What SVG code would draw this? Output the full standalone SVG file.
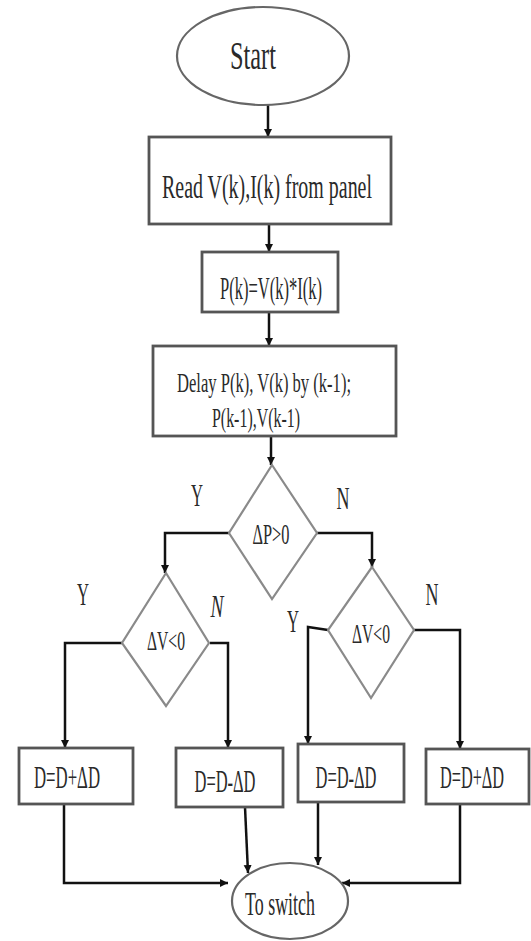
<svg xmlns="http://www.w3.org/2000/svg" width="531" height="941" viewBox="0 0 531 941">
<defs>
<marker id="arr" viewBox="0 0 10 10" refX="10" refY="5" markerWidth="8" markerHeight="9" markerUnits="userSpaceOnUse" orient="auto">
<path d="M0,0 L10,5 L0,10 z" fill="#111"/>
</marker>
<style>
.box{fill:#fff;stroke:#555;stroke-width:2.8}
.dia{fill:#fff;stroke:#8a8a8a;stroke-width:2.2}
.ell{fill:#fff;stroke:#666;stroke-width:2.2}
.con{fill:none;stroke:#111;stroke-width:2.5;marker-end:url(#arr)}
.t{font-family:"Liberation Serif","Times New Roman",serif;fill:#2a2a2a;text-anchor:middle;dominant-baseline:central}
.lb{font-family:"Liberation Serif","Times New Roman",serif;fill:#2a2a2a;text-anchor:middle;dominant-baseline:central;font-size:31px}
</style>
</defs>
<rect width="531" height="941" fill="#fff"/>
<g id="connectors">
<path class="con" d="M268,105 V137"/>
<path class="con" d="M269,224 V252"/>
<path class="con" d="M269,312 V346"/>
<path class="con" d="M271,436 V465"/>
<path class="con" d="M229,533 H165 V573"/>
<path class="con" d="M317,533 H372 V567"/>
<path class="con" d="M122,643 H65 V748"/>
<path class="con" d="M210,643 H228 V748"/>
<path class="con" d="M328,630 L308,627 V744"/>
<path class="con" d="M414,630 H460 V749"/>
<path class="con" d="M64,804 V883 H228"/>
<path class="con" d="M245,807 L248,873"/>
<path class="con" d="M318,802 V865"/>
<path class="con" d="M460,804 V883 H342"/>
</g>
<g id="start">
<ellipse class="ell" cx="263" cy="56" rx="86" ry="49"/>
<text class="t" x="253" y="55" font-size="39" textLength="46" lengthAdjust="spacingAndGlyphs">Start</text>
</g>
<g id="read">
<rect class="box" x="149" y="137" width="242" height="87"/>
<text class="t" x="267" y="186" font-size="34" textLength="210" lengthAdjust="spacingAndGlyphs">Read V(k),I(k) from panel</text>
</g>
<g id="power">
<rect class="box" x="202" y="252" width="136" height="60"/>
<text class="t" x="271" y="288" font-size="31" textLength="102" lengthAdjust="spacingAndGlyphs">P(k)=V(k)*I(k)</text>
</g>
<g id="delay">
<rect class="box" x="153" y="346" width="243" height="90"/>
<text class="t" x="264" y="382" font-size="28" textLength="174" lengthAdjust="spacingAndGlyphs">Delay P(k), V(k) by (k-1);</text>
<text class="t" x="256" y="417" font-size="28" textLength="88" lengthAdjust="spacingAndGlyphs">P(k-1),V(k-1)</text>
</g>
<g id="dp">
<polygon class="dia" points="272,465 317,533 272,599 229,533"/>
<text class="t" x="271" y="533" font-size="30" textLength="37" lengthAdjust="spacingAndGlyphs">ΔP&gt;0</text>
</g>
<g id="dv1">
<polygon class="dia" points="166,573 209,643 166,706 122,643"/>
<text class="t" x="166" y="640" font-size="28" textLength="38" lengthAdjust="spacingAndGlyphs">ΔV&lt;0</text>
</g>
<g id="dv2">
<polygon class="dia" points="372,567 414,630 371,698 328,630"/>
<text class="t" x="371" y="633" font-size="28" textLength="38" lengthAdjust="spacingAndGlyphs">ΔV&lt;0</text>
</g>
<g id="labels">
<text class="lb" x="197" y="495" textLength="12" lengthAdjust="spacingAndGlyphs">Y</text>
<text class="lb" x="343" y="498" textLength="13" lengthAdjust="spacingAndGlyphs">N</text>
<text class="lb" x="83" y="594" textLength="12" lengthAdjust="spacingAndGlyphs">Y</text>
<text class="lb" x="217" y="606" font-style="italic" textLength="13" lengthAdjust="spacingAndGlyphs">N</text>
<text class="lb" x="432" y="594" textLength="13" lengthAdjust="spacingAndGlyphs">N</text>
<text class="lb" x="293" y="621" textLength="12" lengthAdjust="spacingAndGlyphs">Y</text>
</g>
<g id="b1">
<rect class="box" x="19" y="748" width="114" height="56"/>
<text class="t" x="67" y="777" font-size="31" textLength="66" lengthAdjust="spacingAndGlyphs">D=D+ΔD</text>
</g>
<g id="b2">
<rect class="box" x="176" y="748" width="107" height="59"/>
<text class="t" x="225" y="781" font-size="31" textLength="61" lengthAdjust="spacingAndGlyphs">D=D-ΔD</text>
</g>
<g id="b3">
<rect class="box" x="298" y="744" width="106" height="58"/>
<text class="t" x="346" y="777" font-size="31" textLength="61" lengthAdjust="spacingAndGlyphs">D=D-ΔD</text>
</g>
<g id="b4">
<rect class="box" x="426" y="749" width="103" height="55"/>
<text class="t" x="472" y="777" font-size="31" textLength="64" lengthAdjust="spacingAndGlyphs">D=D+ΔD</text>
</g>
<g id="toswitch">
<ellipse class="ell" cx="290" cy="901" rx="58" ry="38"/>
<text class="t" x="280" y="903" font-size="34" textLength="70" lengthAdjust="spacingAndGlyphs">To switch</text>
</g>
</svg>
